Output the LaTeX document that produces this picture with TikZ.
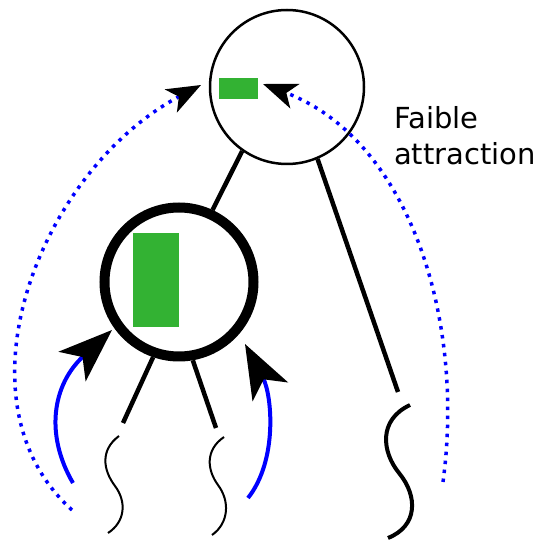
\documentclass[tikz,border=0pt]{standalone}
\usepackage{fontspec}
\setmainfont{DejaVu Sans}
\usepackage{xcolor}
\usepackage{tikz}
\usetikzlibrary{arrows.meta}

\definecolor{leafgreen}{RGB}{51,178,51}

\tikzset{
    edge/.style={line width=4.5pt},
    wave/.style={line width=2pt},
    pull/.style={blue,line width=4pt,-{Stealth[color=black,length=54pt,width=40pt,inset=14pt]}},
    weakpull/.style={blue,line width=3.5pt,dash pattern=on 3.5pt off 5.5pt,-{Stealth[color=black,length=34pt,width=26pt,inset=9pt]}},
}

\begin{document}
\begin{tikzpicture}[x=1pt,y=-1pt]
    \useasboundingbox (0,0) rectangle (542,540);

    % Root and child
    \node[circle,draw,line width=2.5pt,minimum size=154pt,inner sep=0pt] (root) at (287,87) {};
    \node[circle,draw,line width=10pt,minimum size=149pt,inner sep=0pt] (child) at (179,282) {};
    \fill[leafgreen] (219,78) rectangle (258,99);
    \fill[leafgreen] (133,233) rectangle (179,327);

    % Ends of the branches
    \coordinate (farEnd) at (398,392);
    \coordinate (leftEnd) at (123,423);
    \coordinate (midEnd) at (216,428);
    \coordinate (leftTip) at (112,330);
    \coordinate (midTip) at (245,344);

    % Branches
    \draw[edge] (root.235) -- (child.65);
    \draw[edge] (root.-67) -- (farEnd);
    \draw[edge] (child.-109) -- (leftEnd);
    \draw[edge] (child.-80) -- (midEnd);

    % Wavy tails
    \draw[wave] (119,436) .. controls (100,450) and (103,470) .. (115,486) .. controls (127,502) and (125,522) .. (108,533);
    \draw[wave] (224,437) .. controls (205,450) and (207,470) .. (218,485) .. controls (230,501) and (229,523) .. (212,535);
    \draw[line width=4pt] (410,405) .. controls (378,420) and (382,452) .. (399,473) .. controls (418,496) and (418,526) .. (388,538);

    % Strong attraction
    \draw[pull] (73,483) .. controls (45,435) and (52,385) .. (leftTip);
    \draw[pull] (248,498) .. controls (278,460) and (272,395) .. (midTip);

    % Weak attraction
    \draw[weakpull] (72,510) .. controls (-50,400) and (40,170) .. (201,85);
    \draw[weakpull] (443,482) .. controls (465,320) and (410,140) .. (263,84);
    \node[anchor=north west,align=left,inner sep=0pt,font=\fontsize{29}{36}\selectfont] (label) at (394,106) {Faible\\attraction};
\end{tikzpicture}
\end{document}
